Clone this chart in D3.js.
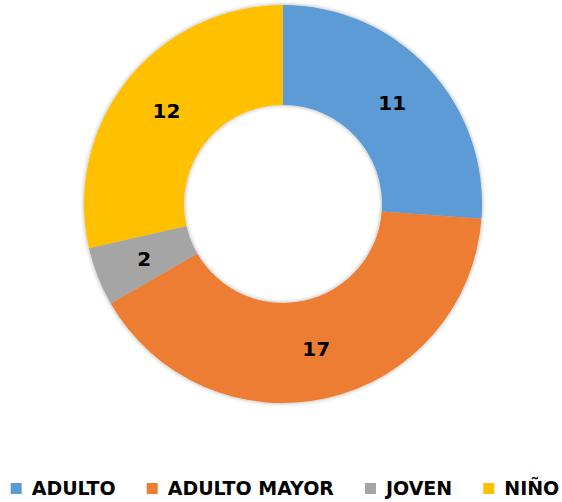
<!DOCTYPE html>
<html><head><meta charset="utf-8">
<script src="https://cdn.jsdelivr.net/npm/d3@7"></script>
<style>body{margin:0;background:#fff}svg{display:block}</style>
</head><body>
<svg id="chart" width="562" height="502"></svg>
<script>
const categories = ["ADULTO", "ADULTO MAYOR", "JOVEN", "NIÑO"];
const values = [11, 17, 2, 12];
const colors = ["#5B9BD5", "#ED7D31", "#A5A5A5", "#FFC000"];

const svg = d3.select("#chart");
const cx = 283, cy = 204, rOuter = 199, rInner = 99;
const font = "'DejaVu Sans', sans-serif";

const defs = svg.append("defs");
const f = defs.append("filter").attr("id","sh").attr("x","-20%").attr("y","-20%").attr("width","140%").attr("height","140%");
f.append("feDropShadow").attr("dx",0).attr("dy",0).attr("stdDeviation",2.2).attr("flood-color","#000").attr("flood-opacity",0.35);

const data = categories.map((c,i)=>({cat:c, value:values[i], color:colors[i]}));
const pie = d3.pie().value(d=>d.value).sort(null);
const arc = d3.arc().innerRadius(rInner).outerRadius(rOuter);
const arcs = pie(data);

const g = svg.append("g").attr("transform",`translate(${cx},${cy})`);
g.append("g").attr("filter","url(#sh)")
  .selectAll("path").data(arcs).join("path")
  .attr("d", arc).attr("fill", d=>d.data.color);

g.selectAll("text").data(arcs).join("text")
  .attr("transform", d=>`translate(${arc.centroid(d)})`)
  .attr("text-anchor","middle").attr("dy","0.36em")
  .attr("font-family", font).attr("font-weight","bold").attr("font-size",20)
  .attr("fill","#000").text(d=>d.data.value);

// legend
const lg = svg.append("g");
const items = lg.selectAll("g").data(data).join("g");
items.append("rect").attr("width",11).attr("height",11).attr("y",-12).attr("fill",d=>d.color);
items.append("text").attr("x",21).attr("y",0)
  .attr("font-family", font).attr("font-weight","bold").attr("font-size",19)
  .attr("fill","#000").text(d=>d.cat);
let x = 0;
items.each(function(){
  const w = d3.select(this).select("text").node().getComputedTextLength();
  d3.select(this).attr("transform",`translate(${x},0)`);
  x += 21 + w + 31;
});
const total = x - 31;
lg.attr("transform",`translate(${(15+555)/2 - total/2},495)`);
</script>
</body></html>
